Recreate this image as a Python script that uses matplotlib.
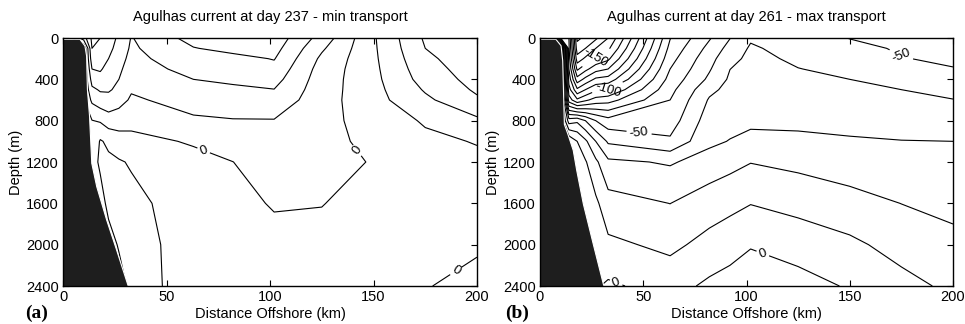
import numpy as np
import matplotlib
matplotlib.use("Agg")
import matplotlib.pyplot as plt

plt.rcParams['font.family'] = ['Liberation Sans', 'DejaVu Sans']
plt.rcParams['contour.negative_linestyle'] = 'solid'

# ---------------- data ----------------
depth = [0, 100, 200, 300, 400, 500, 600, 800, 1000, 1200, 1600, 2000, 2400]

# panel (a): day 237, velocity profiles (cm/s) at each offshore station
dist_a = [0, 10, 14, 18, 22, 27, 33, 63, 82, 102, 125, 148, 175, 200]
vel_a = [
    [0.5, 0.5, 0.5, 0.5, 0.5, 0.5, 0.5, 0.5, 0.5, 0.5, 0.5, 0.5, 0.5],
    [-25, 0.5, 0.5, 0.5, 0.5, 0.5, 0.5, 0.5, 0.5, 0.5, 0.5, 0.5, 0.5],
    [-42, -40, -36, -30, -24, -18, -12, 0.3, 0.5, 0.5, 0.5, 0.5, 0.5],
    [-40, -38, -35, -31, -27, -21, -16, -1, 11, 14, 0.5, 0.5, 0.5],
    [-35, -33, -30, -27, -24, -21, -17, -5, 8, 12, 16, 0.5, 0.5],
    [-28, -26, -24, -22, -20, -18, -14, -4, 4, 11, 15, 12, 0.5],
    [-19.5, -18.5, -17, -15, -13, -11, -8.5, -3, 3, 9, 13, 14.5, 16],
    [-33.6, -29.5, -26.5, -23.5, -20, -17, -14, -8.5, -1, 3, 4, 5, 4],
    [-40, -33, -27, -24, -21.5, -18.5, -15, -9.5, -5, 0.1, 3, 4, 3],
    [-36.1, -33.5, -30.5, -27, -23.5, -19.8, -16.5, -9.5, -7, -5, -0.8, 3, 3],
    [-16, -11.5, -8, -6, -5, -4.5, -4, -3.5, -3, -2.5, -0.2, 2, 2],
    [7, 6.8, 6.6, 6.3, 6, 5.7, 5.5, 4, 2, 0.2, 2.2, 3, 2],
    [31.5, 30, 28, 26, 24, 21, 18, 11, 8, 6.5, 4, 2, 0.5],
    [38, 37, 36, 35, 33.5, 31.5, 28.5, 18, 10.5, 8, 5, 1.3, -3],
]

# panel (b): day 261
dist_b = [0, 10, 14, 18, 22, 27, 33, 63, 82, 92, 102, 125, 150, 175, 200]
vel_b = [
    [-1, -1, -1, -1, -1, -1, -1, -1, -1, -1, -1, -1, -1],
    [-110, -1, -1, -1, -1, -1, -1, -1, -1, -1, -1, -1, -1],
    [-120, -118, -115, -110, -104, -96, -85, -35, -1, -1, -1, -1, -1],
    [-182, -176, -166, -152, -136, -118, -98, -32, -10, -5, -1, -1, -1],
    [-178, -170, -158, -143, -127, -110, -92, -40, -18, -9, -4, -1, -1],
    [-172, -160, -148, -134, -118, -102, -86, -50, -30, -18, -8, -3, -1],
    [-160, -152, -142, -130, -116, -100, -84, -56, -41.5, -28, -16, -8, 1.5],
    [-80.5, -77, -73.5, -70, -66.5, -63, -60, -55, -48.3, -31, -20.1, -12.2, -4],
    [-61, -57, -53.5, -51, -48, -42.5, -39, -35, -32, -26, -14.5, -7, 2],
    [-50.3, -46.5, -43, -40.1, -38.5, -37, -35.8, -33, -29.6, -23, -12.7, -4, 4],
    [-41.2, -38.8, -37.6, -36.6, -35.8, -35, -34.3, -32.5, -26.5, -20.3, -10.3, -0.7, 6],
    [-45, -43.5, -41.5, -39.8, -38, -36.5, -35, -32, -28, -22.5, -13, -4.5, 4],
    [-50.3, -47, -44.5, -42, -40, -38, -36.5, -33, -29, -25, -16.5, -8, -1],
    [-53, -51.2, -49.5, -46.5, -43, -40, -38.5, -35, -29.7, -27, -20.1, -13.5, -7],
    [-56, -54, -52, -49.5, -46, -43, -39.7, -35, -30, -27.5, -22.5, -17.5, -12],
]

# continental slope (bottom depth along the section)
bathy_a_x = [0, 8.2, 10.6, 11.4, 11.8, 12.8, 13.9, 16.3, 21.1, 25.9, 31.5]
bathy_a_d = [13, 13, 77, 174, 500, 750, 1213, 1439, 1762, 2052, 2400]
bathy_b_x = [0, 7.7, 10.2, 11.0, 11.8, 13.5, 16.1, 17.8, 21.0, 25.8, 30.7, 31.0]
bathy_b_d = [12, 13, 75, 220, 836, 930, 1088, 1283, 1607, 1995, 2384, 2400]

levels = list(range(-190, 40, 10))

titles = ['Agulhas current at day 237 - min transport',
          'Agulhas current at day 261 - max transport']
panel_tags = ['(a)', '(b)']
label_levels = [[0], [-150, -100, -50, 0]]
label_spots = [[(68, 1085), (142, 1090), (188, 2200)],
               [(27, 185), (33, 500), (48, 912), (175, 160), (108, 2080), (37, 2360)]]

# ---------------- figure ----------------
fig = plt.figure(figsize=(9.65, 3.24), dpi=100)
axes = [fig.add_axes([63 / 965, 1 - 286 / 324, 414 / 965, 248 / 324]),
        fig.add_axes([540 / 965, 1 - 286 / 324, 413 / 965, 248 / 324])]

panels = [(dist_a, vel_a, bathy_a_x, bathy_a_d), (dist_b, vel_b, bathy_b_x, bathy_b_d)]
fmt = lambda v: f'{v:.0f}'

for i, (ax, (dist, vel, bx, bd)) in enumerate(zip(axes, panels)):
    Z = np.array(vel, dtype=float).T
    X, Y = np.meshgrid(dist, depth)
    plain = [lv for lv in levels if lv not in label_levels[i]]
    ax.contour(X, Y, Z, levels=plain, colors='k', linewidths=0.8,
               linestyles='solid', zorder=2)
    cl = ax.contour(X, Y, Z, levels=label_levels[i], colors='k', linewidths=0.8,
                    linestyles='solid', zorder=2)
    ax.clabel(cl, manual=label_spots[i], fmt=fmt, fontsize=9.5, inline=True,
              inline_spacing=3)
    poly_x = list(bx) + [bx[-1], 0]
    poly_y = list(bd) + [2400, 2400]
    ax.fill(poly_x, poly_y, color='#1e1e1e', zorder=3, lw=0)
    ax.plot(bx, bd, color='white', lw=0.8, zorder=3.5)
    ax.set_xlim(0, 200)
    ax.set_ylim(2400, 0)
    ax.set_xticks([0, 50, 100, 150, 200])
    ax.set_yticks([0, 400, 800, 1200, 1600, 2000, 2400])
    ax.tick_params(direction='in', top=True, right=True, length=4, width=0.8,
                   labelsize=10.5, pad=3)
    for sp in ax.spines.values():
        sp.set_zorder(5)
        sp.set_linewidth(1.0)
    ax.set_xlabel('Distance Offshore (km)', fontsize=10.5, labelpad=2)
    ax.set_ylabel('Depth (m)', fontsize=10.5, labelpad=2)
    ax.set_title(titles[i], fontsize=10.5, pad=12)

fig.text(25 / 965, 1 - 318 / 324, panel_tags[0], family='Liberation Serif',
         fontweight='bold', fontsize=14, va='baseline')
fig.text(505 / 965, 1 - 318 / 324, panel_tags[1], family='Liberation Serif',
         fontweight='bold', fontsize=14, va='baseline')

fig.savefig('out.png', dpi=100)
